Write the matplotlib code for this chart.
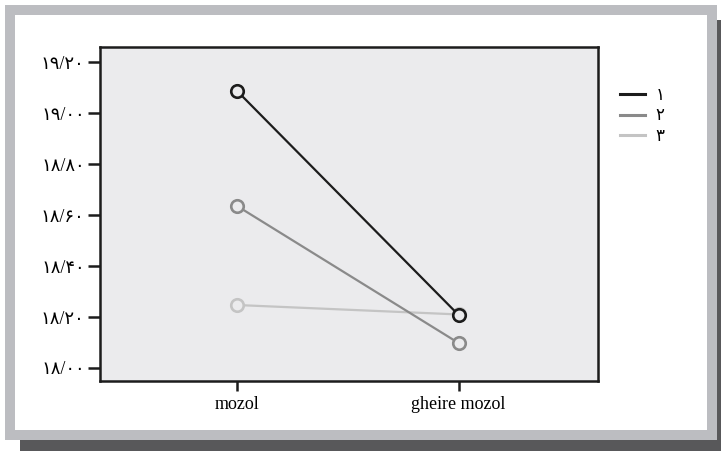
import matplotlib.pyplot as plt
from matplotlib.patches import Rectangle
from matplotlib.lines import Line2D

plt.rcParams['font.family'] = ['Liberation Serif', 'DejaVu Sans']

# data
categories = ['mozol', 'gheire mozol']
series_labels = ['۱', '۲', '۳']
series_values = [
    [19.086, 18.208],
    [18.635, 18.098],
    [18.247, 18.210],
]
series_colors = ['#1c1c1c', '#8a8a8a', '#c4c4c4']
y_ticks = [18.0, 18.2, 18.4, 18.6, 18.8, 19.0, 19.2]
y_tick_labels = ['۱۸/۰۰', '۱۸/۲۰', '۱۸/۴۰', '۱۸/۶۰', '۱۸/۸۰', '۱۹/۰۰', '۱۹/۲۰']

W, H = 721, 451
bg = '#ebebed'
fig = plt.figure(figsize=(W / 100, H / 100), dpi=100)
fig.patch.set_facecolor('white')


def px_rect(x0, y0, x1, y1, color):
    # rectangle given in pixel coords measured from the top-left corner
    fig.patches.append(Rectangle((x0 / W, 1 - y1 / H), (x1 - x0) / W, (y1 - y0) / H,
                                 transform=fig.transFigure, facecolor=color,
                                 edgecolor='none', zorder=-10))


px_rect(20, 20, 725, 455, '#58585a')   # shadow
px_rect(5, 5, 717, 440, '#bcbdc1')     # grey border
px_rect(15, 15, 707, 430, 'white')     # white panel

ax = fig.add_axes([100 / W, 1 - 381 / H, 498 / W, 334 / H])
ax.set_facecolor(bg)

x = list(range(len(categories)))
# draw in reverse so series 1 ends up on top
for i in reversed(range(len(series_values))):
    col = series_colors[i]
    ax.plot(x, series_values[i], color=col, lw=1.6, marker='o', markersize=9,
            markerfacecolor=bg, markeredgecolor=col, markeredgewidth=1.9,
            label=series_labels[i], zorder=3)

ax.set_xlim(-0.62, 1.63)
ax.set_ylim(17.949, 19.259)
ax.set_xticks(x)
ax.set_xticklabels(categories, fontsize=13)
ax.set_yticks(y_ticks)
ax.set_yticklabels(y_tick_labels, fontsize=13)

for s in ax.spines.values():
    s.set_linewidth(1.8)
    s.set_color('#1c1c1c')
ax.tick_params(axis='y', length=9, width=1.8, pad=2, color='#1c1c1c')
ax.tick_params(axis='x', length=7, width=1.8, pad=3.5, color='#1c1c1c')

# legend shows plain line samples, no markers
proxies = [Line2D([], [], color=c, lw=2.2) for c in series_colors]
leg = fig.legend(proxies, series_labels, loc='upper left', bbox_to_anchor=(612 / W, 1 - 80 / H),
                 frameon=False, fontsize=12, handlelength=1.5, handletextpad=0.6,
                 labelspacing=0.25, borderpad=0)

fig.savefig('out.png', dpi=100)
